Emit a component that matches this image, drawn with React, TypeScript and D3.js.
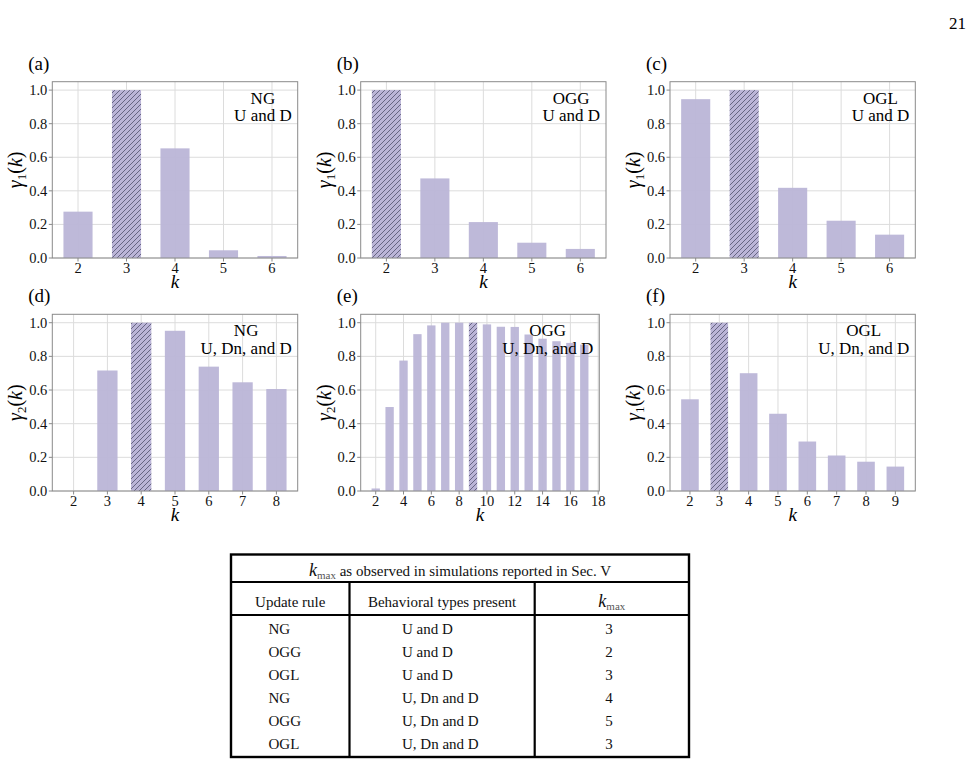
import { useEffect, useRef } from 'react';
import * as d3 from 'd3';

const W = 973;
const H = 767;
const SERIF = "'Liberation Serif', 'Times New Roman', serif";
const BAR = '#bbb5d7';
const HATCH = '#44425f';

// panel data: k values, gamma values, k at which the hatched (max) bar sits
const kA = [2, 3, 4, 5, 6];
const gammaA = [0.276, 1.0, 0.653, 0.046, 0.012];
const kB = [2, 3, 4, 5, 6];
const gammaB = [1.0, 0.474, 0.214, 0.091, 0.054];
const kC = [2, 3, 4, 5, 6];
const gammaC = [0.946, 1.0, 0.418, 0.222, 0.139];
const kD = [2, 3, 4, 5, 6, 7, 8];
const gammaD = [0, 0.716, 1.0, 0.952, 0.739, 0.646, 0.606];
const kE = [2, 3, 4, 5, 6, 7, 8, 9, 10, 11, 12, 13, 14, 15, 16, 17];
const gammaE = [0.015, 0.499, 0.775, 0.932, 0.984, 1.0, 1.0, 1.0, 0.99, 0.976, 0.975, 0.93, 0.905, 0.89, 0.88, 0.87];
const kF = [2, 3, 4, 5, 6, 7, 8, 9];
const gammaF = [0.545, 1.0, 0.7, 0.459, 0.294, 0.211, 0.174, 0.145];

const hatchedK = [3, 2, 3, 4, 9, 3];
const panelTags = ['(a)', '(b)', '(c)', '(d)', '(e)', '(f)'];
const ruleNames = ['NG', 'OGG', 'OGL', 'NG', 'OGG', 'OGL'];
const typeNames = ['U and D', 'U and D', 'U and D', 'U, Dn, and D', 'U, Dn, and D', 'U, Dn, and D'];
const gammaIndex = [1, 1, 1, 2, 2, 1];
const yTicks = [0, 0.2, 0.4, 0.6, 0.8, 1.0];
const xTicksE = [2, 4, 6, 8, 10, 12, 14, 16, 18];

// table
const tableTitle = 'as observed in simulations reported in Sec. V';
const tableHeaders = ['Update rule', 'Behavioral types present'];
const tableRules = ['NG', 'OGG', 'OGL', 'NG', 'OGG', 'OGL'];
const tableTypes = ['U and D', 'U and D', 'U and D', 'U, Dn and D', 'U, Dn and D', 'U, Dn and D'];
const tableKmax = [3, 2, 3, 4, 5, 3];

interface Box {
  left: number;
  right: number;
  top: number;
  bottom: number;
}

const boxes: Box[] = [
  { left: 52.3, right: 297.7, top: 81.7, bottom: 258 },
  { left: 360.7, right: 606, top: 81.7, bottom: 258 },
  { left: 670, right: 915.3, top: 81.7, bottom: 258 },
  { left: 52.3, right: 297.7, top: 314.3, bottom: 491 },
  { left: 360.7, right: 599.3, top: 314.3, bottom: 491 },
  { left: 670, right: 915.3, top: 314.3, bottom: 491 },
];

const panelK = [kA, kB, kC, kD, kE, kF];
const panelGamma = [gammaA, gammaB, gammaC, gammaD, gammaE, gammaF];

export default function App() {
  const svgRef = useRef<SVGSVGElement>(null);

  useEffect(() => {
    if (!svgRef.current) return;
    const svg = d3.select(svgRef.current);
    svg.selectAll('*').remove();

    const defs = svg.append('defs');
    const pat = defs
      .append('pattern')
      .attr('id', 'hatch')
      .attr('patternUnits', 'userSpaceOnUse')
      .attr('width', 5)
      .attr('height', 5);
    pat.append('rect').attr('width', 5).attr('height', 5).attr('fill', BAR);
    pat
      .append('path')
      .attr('d', 'M-1,1 l2,-2 M0,5 l5,-5 M4,6 l2,-2')
      .attr('stroke', HATCH)
      .attr('stroke-width', 0.7);

    svg
      .append('text')
      .attr('x', 966)
      .attr('y', 29)
      .attr('text-anchor', 'end')
      .attr('font-family', SERIF)
      .attr('font-size', 17)
      .text('21');

    boxes.forEach((box, i) => {
      const ks = panelK[i];
      const vals = panelGamma[i];
      const lo = d3.min(ks)! - 0.3;
      const hi = d3.max(ks)! + 0.3;
      const pad = (hi - lo) * 0.05;
      const x = d3.scaleLinear().domain([lo - pad, hi + pad]).range([box.left, box.right]);
      const y = d3.scaleLinear().domain([0, 1.05]).range([box.bottom, box.top]);
      const xTicks = i === 4 ? xTicksE : ks;
      const g = svg.append('g');

      // grid
      g.selectAll('line.gy')
        .data(yTicks)
        .join('line')
        .attr('x1', box.left)
        .attr('x2', box.right)
        .attr('y1', (d) => y(d))
        .attr('y2', (d) => y(d))
        .attr('stroke', '#dcdcdc')
        .attr('stroke-width', 1);
      g.selectAll('line.gx')
        .data(xTicks)
        .join('line')
        .attr('x1', (d) => x(d))
        .attr('x2', (d) => x(d))
        .attr('y1', box.top)
        .attr('y2', box.bottom)
        .attr('stroke', '#dcdcdc')
        .attr('stroke-width', 1);

      // bars
      g.selectAll('rect.bar')
        .data(ks.map((k, j) => ({ k, v: vals[j] })))
        .join('rect')
        .attr('x', (d) => x(d.k - 0.3))
        .attr('width', (d) => x(d.k + 0.3) - x(d.k - 0.3))
        .attr('y', (d) => y(d.v))
        .attr('height', (d) => y(0) - y(d.v))
        .attr('fill', (d) => (d.k === hatchedK[i] ? 'url(#hatch)' : BAR))
        .attr('fill-opacity', (d) => (d.k === hatchedK[i] ? 1 : 0.95));

      // frame
      g.append('rect')
        .attr('x', box.left)
        .attr('y', box.top)
        .attr('width', box.right - box.left)
        .attr('height', box.bottom - box.top)
        .attr('fill', 'none')
        .attr('stroke', '#8a8a8a')
        .attr('stroke-width', 1);

      // y ticks
      const yt = g.selectAll('g.yt').data(yTicks).join('g');
      yt.append('line')
        .attr('x1', box.left - 3.5)
        .attr('x2', box.left)
        .attr('y1', (d) => y(d))
        .attr('y2', (d) => y(d))
        .attr('stroke', '#8a8a8a');
      yt.append('text')
        .attr('x', box.left - 5)
        .attr('y', (d) => y(d))
        .attr('dy', '0.35em')
        .attr('text-anchor', 'end')
        .attr('font-family', SERIF)
        .attr('font-size', 14.5)
        .attr('fill', '#111')
        .text((d) => d.toFixed(1));

      // x ticks
      const xt = g.selectAll('g.xt').data(xTicks).join('g');
      xt.append('line')
        .attr('x1', (d) => x(d))
        .attr('x2', (d) => x(d))
        .attr('y1', box.bottom)
        .attr('y2', box.bottom + 3.5)
        .attr('stroke', '#8a8a8a');
      xt.append('text')
        .attr('x', (d) => x(d))
        .attr('y', box.bottom + 14.5)
        .attr('text-anchor', 'middle')
        .attr('font-family', SERIF)
        .attr('font-size', 14.5)
        .attr('fill', '#111')
        .text((d) => String(d));

      // x label
      g.append('text')
        .attr('x', (box.left + box.right) / 2)
        .attr('y', box.bottom + 30)
        .attr('text-anchor', 'middle')
        .attr('font-family', SERIF)
        .attr('font-style', 'italic')
        .attr('font-size', 19)
        .text('k');

      // y label
      const yl = g
        .append('text')
        .attr('transform', `translate(${box.left - 30},${(box.top + box.bottom) / 2}) rotate(-90)`)
        .attr('text-anchor', 'middle')
        .attr('font-family', SERIF)
        .attr('font-size', 20);
      yl.append('tspan').attr('font-style', 'italic').text('γ');
      yl.append('tspan').attr('font-size', 13).attr('dy', 4).text(String(gammaIndex[i]));
      yl.append('tspan').attr('dy', -4).text('(');
      yl.append('tspan').attr('font-style', 'italic').text('k');
      yl.append('tspan').text(')');

      // panel tag
      g.append('text')
        .attr('x', box.left - 24)
        .attr('y', box.top - 12)
        .attr('font-family', SERIF)
        .attr('font-size', 19)
        .text(panelTags[i]);

      // annotation, lines centred, block flush right
      const ann = g
        .append('g')
        .attr('font-family', SERIF)
        .attr('font-size', 17)
        .attr('text-anchor', 'middle');
      ann.append('text').attr('x', 0).attr('y', box.top + 22).text(ruleNames[i]);
      ann.append('text').attr('x', 0).attr('y', box.top + 39.5).text(typeNames[i]);
      const bw = (ann.node() as SVGGElement).getBBox().width;
      ann.attr('transform', `translate(${box.right - 6 - bw / 2},0)`);
    });

    // table
    const t = { left: 231, right: 689, top: 554.5, bottom: 757, titleBot: 582, headBot: 615, c1: 349.5, c2: 534.7 };
    const tg = svg.append('g').attr('font-family', SERIF).attr('fill', '#111');
    tg.append('rect')
      .attr('x', t.left)
      .attr('y', t.top)
      .attr('width', t.right - t.left)
      .attr('height', t.bottom - t.top)
      .attr('fill', 'none')
      .attr('stroke', '#000')
      .attr('stroke-width', 2.4);
    [t.titleBot, t.headBot].forEach((yy) => {
      tg.append('line')
        .attr('x1', t.left)
        .attr('x2', t.right)
        .attr('y1', yy)
        .attr('y2', yy)
        .attr('stroke', '#000')
        .attr('stroke-width', 2.2);
    });
    [t.c1, t.c2].forEach((xx) => {
      tg.append('line')
        .attr('x1', xx)
        .attr('x2', xx)
        .attr('y1', t.titleBot)
        .attr('y2', t.bottom)
        .attr('stroke', '#000')
        .attr('stroke-width', 2.2);
    });

    const title = tg
      .append('text')
      .attr('x', (t.left + t.right) / 2)
      .attr('y', 575.5)
      .attr('text-anchor', 'middle')
      .attr('font-size', 15);
    title.append('tspan').attr('font-style', 'italic').attr('font-size', 18).text('k');
    title.append('tspan').attr('font-size', 11).attr('dy', 3).attr('fill', '#555').text('max');
    title.append('tspan').attr('dy', -3).text(' ' + tableTitle);

    tg.append('text')
      .attr('x', (t.left + t.c1) / 2)
      .attr('y', 606.5)
      .attr('text-anchor', 'middle')
      .attr('font-size', 15)
      .text(tableHeaders[0]);
    tg.append('text')
      .attr('x', (t.c1 + t.c2) / 2)
      .attr('y', 606.5)
      .attr('text-anchor', 'middle')
      .attr('font-size', 15)
      .text(tableHeaders[1]);
    const kh = tg
      .append('text')
      .attr('x', (t.c2 + t.right) / 2)
      .attr('y', 606.5)
      .attr('text-anchor', 'middle')
      .attr('font-size', 15);
    kh.append('tspan').attr('font-style', 'italic').attr('font-size', 18).text('k');
    kh.append('tspan').attr('font-size', 11).attr('dy', 3).attr('fill', '#555').text('max');

    const rowY = d3.scaleLinear().domain([0, tableRules.length - 1]).range([634.3, 749]);
    tableRules.forEach((r, j) => {
      tg.append('text').attr('x', 268.5).attr('y', rowY(j)).attr('font-size', 15).text(r);
      tg.append('text').attr('x', 402).attr('y', rowY(j)).attr('font-size', 15).text(tableTypes[j]);
      tg.append('text')
        .attr('x', 609)
        .attr('y', rowY(j))
        .attr('text-anchor', 'middle')
        .attr('font-size', 15)
        .text(String(tableKmax[j]));
    });
  }, []);

  return (
    <svg
      ref={svgRef}
      width={W}
      height={H}
      viewBox={`0 0 ${W} ${H}`}
      style={{ position: 'absolute', left: 0, top: 0, background: '#fff' }}
    />
  );
}
